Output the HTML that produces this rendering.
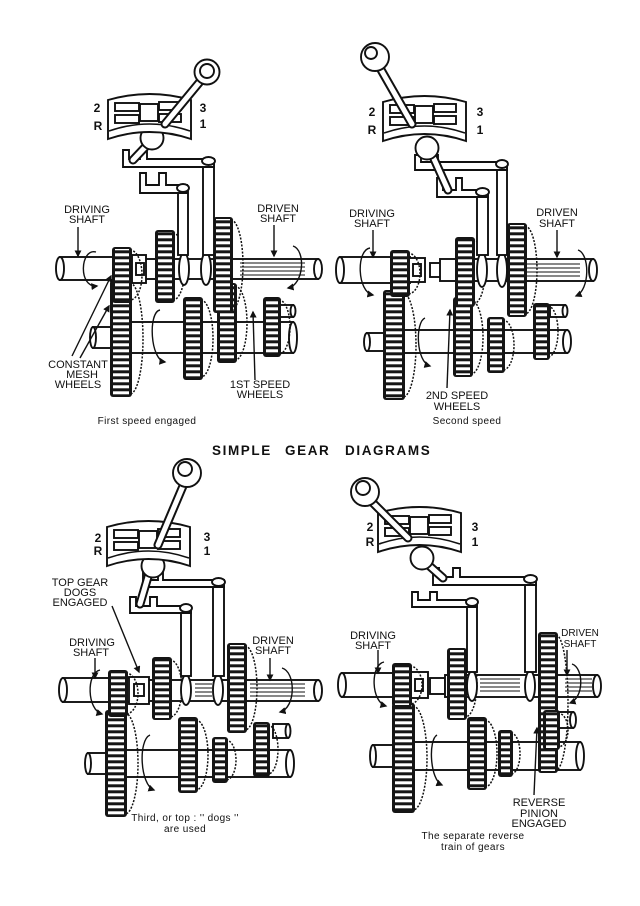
<!DOCTYPE html>
<html><head><meta charset="utf-8">
<style>
html,body{margin:0;padding:0;background:#fff}
svg{display:block}
text{font-family:"Liberation Sans",sans-serif;fill:#111}
.s{fill:#fff;stroke:#111;stroke-width:1.9}
.l{fill:none;stroke:#111;stroke-width:1.6}
.bk{fill:none;stroke:#111;stroke-width:1.5;stroke-dasharray:2 1.5}
.gf{fill:#151515}
.gt{fill:url(#t)}
.lv{stroke:#111;stroke-width:9;stroke-linecap:round;fill:none}
.lvi{stroke:#fff;stroke-width:5;stroke-linecap:round;fill:none}
.ar{fill:none;stroke:#111;stroke-width:1.4;marker-end:url(#a)}
.lb{font-size:11px;text-anchor:middle}
.nm{font-size:12px;font-weight:bold;text-anchor:middle}
.cp{font-size:10px;text-anchor:middle;letter-spacing:0.4px}
.sp{fill:none;stroke:#111;stroke-width:1}
</style></head><body>
<svg width="640" height="906" viewBox="0 0 640 906" xmlns="http://www.w3.org/2000/svg">
<defs>
<pattern id="t" width="20" height="6" patternUnits="userSpaceOnUse"><rect y="1.3" width="20" height="3" fill="#fff"/></pattern>
<marker id="a" viewBox="0 0 10 10" refX="8" refY="5" markerWidth="5" markerHeight="5" orient="auto"><path d="M0,0 L10,5 L0,10 z" fill="#111"/></marker>
<g id="plate">
<path d="M108,100 Q149.5,88 191,100 L191,139 Q149.5,125 108,139 Z" class="s" stroke-width="2.6"/>
<path d="M109,131 Q149.5,117 190,131" class="l" stroke-width="2"/>
<rect x="115" y="103" width="24" height="8" class="s" stroke-width="2.2"/>
<rect x="115" y="115" width="24" height="8" class="s" stroke-width="2.2"/>
<rect x="159" y="102" width="22" height="8" class="s" stroke-width="2.2"/>
<rect x="159" y="114" width="22" height="8" class="s" stroke-width="2.2"/>
<rect x="140" y="104" width="18" height="17" class="s" stroke-width="1.8"/>
</g>
</defs>
<rect width="640" height="906" fill="#fff"/>

<!-- ================= Q1 ================= -->
<rect x="93" y="327" width="22" height="21" class="s"/><ellipse cx="93" cy="337.5" rx="3" ry="10.5" class="s"/>
<rect x="115" y="322" width="178" height="31" class="s"/><ellipse cx="293" cy="337.5" rx="4" ry="15.5" class="s"/>
<rect x="280" y="305" width="13" height="12" class="s"/><ellipse cx="293" cy="311" rx="2.5" ry="6" class="s"/>
<path d="M130,283 A13,55.5 0 0 1 130,394" class="bk"/><rect x="110" y="280" width="22" height="117" rx="3" class="gf"/><rect x="113" y="282" width="16" height="113" class="gt"/>
<path d="M201,300 A12,38.5 0 0 1 201,377" class="bk"/><rect x="183" y="297" width="20" height="83" rx="3" class="gf"/><rect x="186" y="299" width="14" height="79" class="gt"/>
<path d="M235,286 A12,37 0 0 1 235,360" class="bk"/><rect x="217" y="283" width="20" height="80" rx="3" class="gf"/><rect x="220" y="285" width="14" height="76" class="gt"/>
<path d="M279,300 A11,27 0 0 1 279,354" class="bk"/><rect x="263" y="297" width="18" height="60" rx="3" class="gf"/><rect x="266" y="299" width="12" height="56" class="gt"/>
<rect x="60" y="257" width="55" height="23" class="s"/><ellipse cx="60" cy="268.5" rx="4" ry="11.5" class="s"/>
<rect x="135" y="259" width="183" height="20" class="s"/><ellipse cx="318" cy="269" rx="4" ry="10" class="s"/>
<path d="M240,263H305M240,267H305M240,271H305M240,275H305" class="sp"/>
<rect x="132" y="255" width="14" height="28" class="s"/><rect x="136" y="263" width="8" height="12" class="s"/>
<path d="M130,250 A12,25 0 0 1 130,300" class="bk"/><rect x="112" y="247" width="20" height="56" rx="3" class="gf"/><rect x="115" y="249" width="14" height="52" class="gt"/>
<path d="M173,233 A12,33.5 0 0 1 173,300" class="bk"/><rect x="155" y="230" width="20" height="73" rx="3" class="gf"/><rect x="158" y="232" width="14" height="69" class="gt"/>
<path d="M231,220 A12,45 0 0 1 231,310" class="bk"/><rect x="213" y="217" width="20" height="96" rx="3" class="gf"/><rect x="216" y="219" width="14" height="92" class="gt"/>
<ellipse cx="184" cy="269" rx="5" ry="16" class="s" stroke-width="2"/><ellipse cx="206" cy="269" rx="5" ry="16" class="s" stroke-width="2"/>
<rect x="178" y="188" width="10" height="67" class="s"/>
<rect x="203" y="161" width="11" height="94" class="s"/>
<path d="M123,150 h6 v9 h11 v-9 h7 v9 h67 v8 h-91 z" class="s" stroke-width="2"/>
<path d="M140,173 h6 v12 h13 v-12 h7 v12 h21 v8 h-47 z" class="s" stroke-width="2"/>
<ellipse cx="208.5" cy="161" rx="6.5" ry="4" class="s"/><ellipse cx="183" cy="188" rx="6" ry="4" class="s"/>
<line x1="150" y1="142" x2="133" y2="160" class="lv"/><line x1="150" y1="142" x2="133" y2="160" class="lvi"/>
<circle cx="152" cy="138" r="11.5" class="s" stroke-width="2.2"/>
<use href="#plate"/>
<line x1="203" y1="78" x2="165" y2="124" class="lv"/><line x1="203" y1="78" x2="165" y2="124" class="lvi"/>
<circle cx="207" cy="72" r="12.5" class="s" stroke-width="2.6"/><circle cx="207" cy="71" r="7" class="s" stroke-width="2"/>
<text x="97" y="112" class="nm">2</text><text x="98" y="130" class="nm">R</text>
<text x="203" y="112" class="nm">3</text><text x="203" y="128" class="nm">1</text>
<text x="87" y="213" class="lb">DRIVING</text><text x="87" y="223" class="lb">SHAFT</text>
<text x="278" y="212" class="lb">DRIVEN</text><text x="278" y="222" class="lb">SHAFT</text>
<text x="78" y="368" class="lb">CONSTANT</text><text x="82" y="378" class="lb">MESH</text><text x="78" y="388" class="lb">WHEELS</text>
<text x="260" y="388" class="lb">1ST SPEED</text><text x="260" y="398" class="lb">WHEELS</text>
<text x="147" y="424" class="cp">First speed engaged</text>
<line x1="78" y1="227" x2="78" y2="256" class="ar"/>
<line x1="274" y1="225" x2="274" y2="256" class="ar"/>
<line x1="72" y1="356" x2="111" y2="276" class="ar"/>
<line x1="80" y1="358" x2="109" y2="306" class="ar"/>
<line x1="255" y1="380" x2="253" y2="312" class="ar"/>
<path d="M96,252 C80,248 78,288 97,286" class="ar"/>
<path d="M293,246 C306,250 304,285 288,288" class="ar"/>
<path d="M160,310 C148,312 150,360 165,362" class="ar"/>

<!-- ================= Q2 ================= -->
<rect x="367" y="333" width="18" height="18" class="s"/><ellipse cx="367" cy="342" rx="3" ry="9" class="s"/>
<rect x="385" y="330" width="182" height="23" class="s"/><ellipse cx="567" cy="341.5" rx="4" ry="11.5" class="s"/>
<rect x="550" y="305" width="15" height="12" class="s"/><ellipse cx="565" cy="311" rx="2.5" ry="6" class="s"/>
<path d="M403,293 A13,52 0 0 1 403,397" class="bk"/><rect x="383" y="290" width="22" height="110" rx="3" class="gf"/><rect x="386" y="292" width="16" height="106" class="gt"/>
<path d="M471,300 A12,37 0 0 1 471,374" class="bk"/><rect x="453" y="297" width="20" height="80" rx="3" class="gf"/><rect x="456" y="299" width="14" height="76" class="gt"/>
<path d="M503,320 A11,25 0 0 1 503,370" class="bk"/><rect x="487" y="317" width="18" height="56" rx="3" class="gf"/><rect x="490" y="319" width="12" height="52" class="gt"/>
<path d="M548,306 A10,25.5 0 0 1 548,357" class="bk"/><rect x="533" y="303" width="17" height="57" rx="3" class="gf"/><rect x="536" y="305" width="11" height="53" class="gt"/>
<rect x="340" y="257" width="70" height="26" class="s"/><ellipse cx="340" cy="270" rx="4" ry="13" class="s"/>
<rect x="408" y="258" width="17" height="24" class="s"/><rect x="413" y="264" width="8" height="12" class="s"/>
<rect x="430" y="263" width="12" height="14" class="s"/>
<rect x="440" y="259" width="153" height="22" class="s"/><ellipse cx="593" cy="270" rx="4" ry="11" class="s"/>
<path d="M520,264H580M520,268H580M520,272H580M520,276H580" class="sp"/>
<path d="M408,253 A12,20.5 0 0 1 408,294" class="bk"/><rect x="390" y="250" width="20" height="47" rx="3" class="gf"/><rect x="393" y="252" width="14" height="43" class="gt"/>
<path d="M473,240 A12,32 0 0 1 473,304" class="bk"/><rect x="455" y="237" width="20" height="70" rx="3" class="gf"/><rect x="458" y="239" width="14" height="66" class="gt"/>
<path d="M525,226 A12,44 0 0 1 525,314" class="bk"/><rect x="507" y="223" width="20" height="94" rx="3" class="gf"/><rect x="510" y="225" width="14" height="90" class="gt"/>
<ellipse cx="482" cy="270" rx="5" ry="17" class="s" stroke-width="2"/><ellipse cx="502" cy="270" rx="5" ry="17" class="s" stroke-width="2"/>
<rect x="497" y="164" width="10" height="91" class="s"/>
<rect x="477" y="192" width="11" height="63" class="s"/>
<path d="M415,155 h6 v7 h11 v-7 h6 v7 h69 v8 h-92 z" class="s" stroke-width="2"/>
<path d="M437,178 h6 v12 h13 v-12 h6 v12 h26 v7 h-51 z" class="s" stroke-width="2"/>
<ellipse cx="502" cy="164" rx="6" ry="4" class="s"/><ellipse cx="482.5" cy="192" rx="6.5" ry="4" class="s"/>
<line x1="430" y1="150" x2="448" y2="190" class="lv"/><line x1="430" y1="150" x2="448" y2="190" class="lvi"/>
<circle cx="427" cy="148" r="11.5" class="s" stroke-width="2.2"/>
<use href="#plate" transform="translate(275,2)"/>
<line x1="380" y1="68" x2="412" y2="124" class="lv"/><line x1="380" y1="68" x2="412" y2="124" class="lvi"/>
<circle cx="375" cy="57" r="14" class="s" stroke-width="2.6"/><circle cx="371" cy="53" r="6" class="s" stroke-width="1.8"/>
<text x="372" y="116" class="nm">2</text><text x="372" y="134" class="nm">R</text>
<text x="480" y="116" class="nm">3</text><text x="480" y="134" class="nm">1</text>
<text x="372" y="217" class="lb">DRIVING</text><text x="372" y="227" class="lb">SHAFT</text>
<text x="557" y="216" class="lb">DRIVEN</text><text x="557" y="227" class="lb">SHAFT</text>
<text x="457" y="399" class="lb">2ND SPEED</text><text x="457" y="410" class="lb">WHEELS</text>
<text x="467" y="424" class="cp">Second speed</text>
<line x1="373" y1="230" x2="373" y2="257" class="ar"/>
<line x1="557" y1="230" x2="557" y2="257" class="ar"/>
<line x1="447" y1="388" x2="450" y2="310" class="ar"/>
<path d="M370,248 C356,250 357,292 373,295" class="ar"/>
<path d="M578,250 C590,254 590,290 576,296" class="ar"/>
<path d="M425,318 C415,322 416,362 430,366" class="ar"/>

<!-- ================= Title ================= -->
<text x="212" y="455" style="font-size:13.5px;font-weight:bold;letter-spacing:1.6px">SIMPLE</text>
<text x="285" y="455" style="font-size:13.5px;font-weight:bold;letter-spacing:1.6px">GEAR</text>
<text x="345" y="455" style="font-size:13.5px;font-weight:bold;letter-spacing:1.6px">DIAGRAMS</text>

<!-- ================= Q3 ================= -->
<rect x="88" y="753" width="20" height="21" class="s"/><ellipse cx="88" cy="763.5" rx="3" ry="10.5" class="s"/>
<rect x="108" y="750" width="182" height="27" class="s"/><ellipse cx="290" cy="763.5" rx="4" ry="13.5" class="s"/>
<rect x="273" y="724" width="15" height="14" class="s"/><ellipse cx="288" cy="731" rx="2.5" ry="7" class="s"/>
<path d="M125,713 A13,50.5 0 0 1 125,814" class="bk"/><rect x="105" y="710" width="22" height="107" rx="3" class="gf"/><rect x="108" y="712" width="16" height="103" class="gt"/>
<path d="M196,720 A12,35 0 0 1 196,790" class="bk"/><rect x="178" y="717" width="20" height="76" rx="3" class="gf"/><rect x="181" y="719" width="14" height="72" class="gt"/>
<path d="M226,740 A10,20 0 0 1 226,780" class="bk"/><rect x="212" y="737" width="16" height="46" rx="3" class="gf"/><rect x="215" y="739" width="10" height="42" class="gt"/>
<path d="M268,725 A10,24.5 0 0 1 268,774" class="bk"/><rect x="253" y="722" width="17" height="55" rx="3" class="gf"/><rect x="256" y="724" width="11" height="51" class="gt"/>
<rect x="63" y="678" width="77" height="24" class="s"/><ellipse cx="63" cy="690" rx="4" ry="12" class="s"/>
<rect x="140" y="680" width="178" height="21" class="s"/><ellipse cx="318" cy="690.5" rx="4" ry="10.5" class="s"/>
<path d="M195,684H212M195,688H212M195,692H212M195,696H212M250,684H305M250,688H305M250,692H305M250,696H305" class="sp"/>
<rect x="129" y="677" width="20" height="27" class="s"/><rect x="134" y="684" width="10" height="12" class="s"/>
<path d="M126,673 A12,20.5 0 0 1 126,714" class="bk"/><rect x="108" y="670" width="20" height="47" rx="3" class="gf"/><rect x="111" y="672" width="14" height="43" class="gt"/>
<path d="M170,660 A12,28.5 0 0 1 170,717" class="bk"/><rect x="152" y="657" width="20" height="63" rx="3" class="gf"/><rect x="155" y="659" width="14" height="59" class="gt"/>
<path d="M245,646 A12,42 0 0 1 245,730" class="bk"/><rect x="227" y="643" width="20" height="90" rx="3" class="gf"/><rect x="230" y="645" width="14" height="86" class="gt"/>
<ellipse cx="186" cy="690" rx="5" ry="15" class="s" stroke-width="2"/><ellipse cx="218" cy="690" rx="5" ry="15" class="s" stroke-width="2"/>
<rect x="213" y="582" width="11" height="94" class="s"/>
<rect x="181" y="608" width="10" height="68" class="s"/>
<path d="M143,573 h5 v7 h10 v-7 h5 v7 h61 v7 h-81 z" class="s" stroke-width="2"/>
<path d="M130,597 h6 v9 h14 v-9 h7 v9 h34 v7 h-61 z" class="s" stroke-width="2"/>
<ellipse cx="218.5" cy="582" rx="6.5" ry="4" class="s"/><ellipse cx="186" cy="608" rx="6" ry="4" class="s"/>
<line x1="150" y1="570" x2="140" y2="604" class="lv"/><line x1="150" y1="570" x2="140" y2="604" class="lvi"/>
<circle cx="153" cy="566" r="11.5" class="s" stroke-width="2.2"/>
<use href="#plate" transform="translate(-1,427)"/>
<line x1="183" y1="486" x2="158" y2="545" class="lv"/><line x1="183" y1="486" x2="158" y2="545" class="lvi"/>
<circle cx="187" cy="473" r="14" class="s" stroke-width="2.6"/><circle cx="185" cy="469" r="7" class="s" stroke-width="1.8"/>
<text x="98" y="542" class="nm">2</text><text x="98" y="555" class="nm">R</text>
<text x="207" y="541" class="nm">3</text><text x="207" y="555" class="nm">1</text>
<text x="80" y="586" class="lb">TOP GEAR</text><text x="80" y="596" class="lb">DOGS</text><text x="80" y="606" class="lb">ENGAGED</text>
<text x="92" y="646" class="lb">DRIVING</text><text x="91" y="656" class="lb">SHAFT</text>
<text x="273" y="644" class="lb">DRIVEN</text><text x="273" y="654" class="lb">SHAFT</text>
<text x="185" y="821" class="cp">Third, or top :  '' dogs ''</text>
<text x="185" y="832" class="cp">are used</text>
<line x1="112" y1="606" x2="139" y2="672" class="ar"/>
<line x1="95" y1="658" x2="95" y2="678" class="ar"/>
<line x1="270" y1="658" x2="270" y2="680" class="ar"/>
<path d="M100,670 C86,673 87,710 102,714" class="ar"/>
<path d="M282,668 C296,672 296,708 280,712" class="ar"/>
<path d="M150,735 C138,740 140,785 154,790" class="ar"/>

<!-- ================= Q4 ================= -->
<rect x="373" y="745" width="22" height="22" class="s"/><ellipse cx="373" cy="756" rx="3" ry="11" class="s"/>
<rect x="395" y="742" width="185" height="28" class="s"/><ellipse cx="580" cy="756" rx="4" ry="14" class="s"/>
<rect x="558" y="712" width="15" height="16" class="s"/><ellipse cx="573" cy="720" rx="3" ry="8" class="s"/>
<path d="M413,706 A14,52 0 0 1 413,810" class="bk"/><rect x="392" y="703" width="23" height="110" rx="3" class="gf"/><rect x="395" y="705" width="17" height="106" class="gt"/>
<path d="M485,720 A12,33.5 0 0 1 485,787" class="bk"/><rect x="467" y="717" width="20" height="73" rx="3" class="gf"/><rect x="470" y="719" width="14" height="69" class="gt"/>
<path d="M511,733 A9,20.5 0 0 1 511,774" class="bk"/><rect x="498" y="730" width="15" height="47" rx="3" class="gf"/><rect x="501" y="732" width="9" height="43" class="gt"/>
<rect x="342" y="673" width="60" height="24" class="s"/><ellipse cx="342" cy="685" rx="4" ry="12" class="s"/>
<rect x="410" y="672" width="18" height="26" class="s"/><rect x="415" y="679" width="8" height="12" class="s"/>
<rect x="430" y="678" width="15" height="16" class="s"/>
<rect x="445" y="675" width="152" height="22" class="s"/><ellipse cx="597" cy="686" rx="4" ry="11" class="s"/>
<path d="M480,679H520M480,683H520M480,687H520M480,691H520M565,679H592M565,683H592M565,687H592M565,691H592" class="sp"/>
<path d="M410,666 A12,19 0 0 1 410,704" class="bk"/><rect x="392" y="663" width="20" height="44" rx="3" class="gf"/><rect x="395" y="665" width="14" height="40" class="gt"/>
<path d="M465,651 A12,33 0 0 1 465,717" class="bk"/><rect x="447" y="648" width="20" height="72" rx="3" class="gf"/><rect x="450" y="650" width="14" height="68" class="gt"/>
<path d="M556,635 A12,67.5 0 0 1 556,770" class="bk"/><rect x="538" y="632" width="20" height="141" rx="3" class="gf"/><rect x="541" y="634" width="14" height="137" class="gt"/>
<path d="M558,713 A10,17 0 0 1 558,747" class="bk"/><rect x="543" y="710" width="17" height="40" rx="3" class="gf"/><rect x="546" y="712" width="11" height="36" class="gt"/>
<ellipse cx="472" cy="686" rx="5" ry="15" class="s" stroke-width="2"/><ellipse cx="530" cy="686" rx="5" ry="15" class="s" stroke-width="2"/>
<rect x="525" y="579" width="11" height="93" class="s"/>
<rect x="467" y="602" width="10" height="70" class="s"/>
<path d="M433,568 h6 v9 h14 v-9 h7 v9 h76 v8 h-103 z" class="s" stroke-width="2"/>
<path d="M412,592 h6 v8 h12 v-8 h7 v8 h40 v7 h-65 z" class="s" stroke-width="2"/>
<ellipse cx="530.5" cy="579" rx="6.5" ry="4" class="s"/><ellipse cx="472" cy="602" rx="6" ry="4" class="s"/>
<line x1="425" y1="562" x2="443" y2="578" class="lv"/><line x1="425" y1="562" x2="443" y2="578" class="lvi"/>
<circle cx="422" cy="558" r="11.5" class="s" stroke-width="2.2"/>
<use href="#plate" transform="translate(270,413)"/>
<line x1="372" y1="502" x2="408" y2="538" class="lv"/><line x1="372" y1="502" x2="408" y2="538" class="lvi"/>
<circle cx="365" cy="492" r="14" class="s" stroke-width="2.6"/><circle cx="363" cy="488" r="7" class="s" stroke-width="1.8"/>
<text x="370" y="531" class="nm">2</text><text x="370" y="546" class="nm">R</text>
<text x="475" y="531" class="nm">3</text><text x="475" y="546" class="nm">1</text>
<text x="373" y="639" class="lb">DRIVING</text><text x="373" y="649" class="lb">SHAFT</text>
<text x="580" y="636" class="lb" style="font-size:10px">DRIVEN</text><text x="580" y="647" class="lb" style="font-size:10px">SHAFT</text>
<text x="539" y="806" class="lb">REVERSE</text><text x="539" y="817" class="lb">PINION</text><text x="539" y="827" class="lb">ENGAGED</text>
<text x="473" y="839" class="cp">The separate reverse</text>
<text x="473" y="850" class="cp">train of gears</text>
<line x1="378" y1="650" x2="378" y2="673" class="ar"/>
<line x1="567" y1="650" x2="567" y2="675" class="ar"/>
<line x1="534" y1="795" x2="537" y2="728" class="ar"/>
<path d="M384,662 C370,665 371,702 386,706" class="ar"/>
<path d="M572,664 C584,668 584,698 570,703" class="ar"/>
<path d="M437,735 C428,740 430,780 442,785" class="ar"/>
</svg>
</body></html>
